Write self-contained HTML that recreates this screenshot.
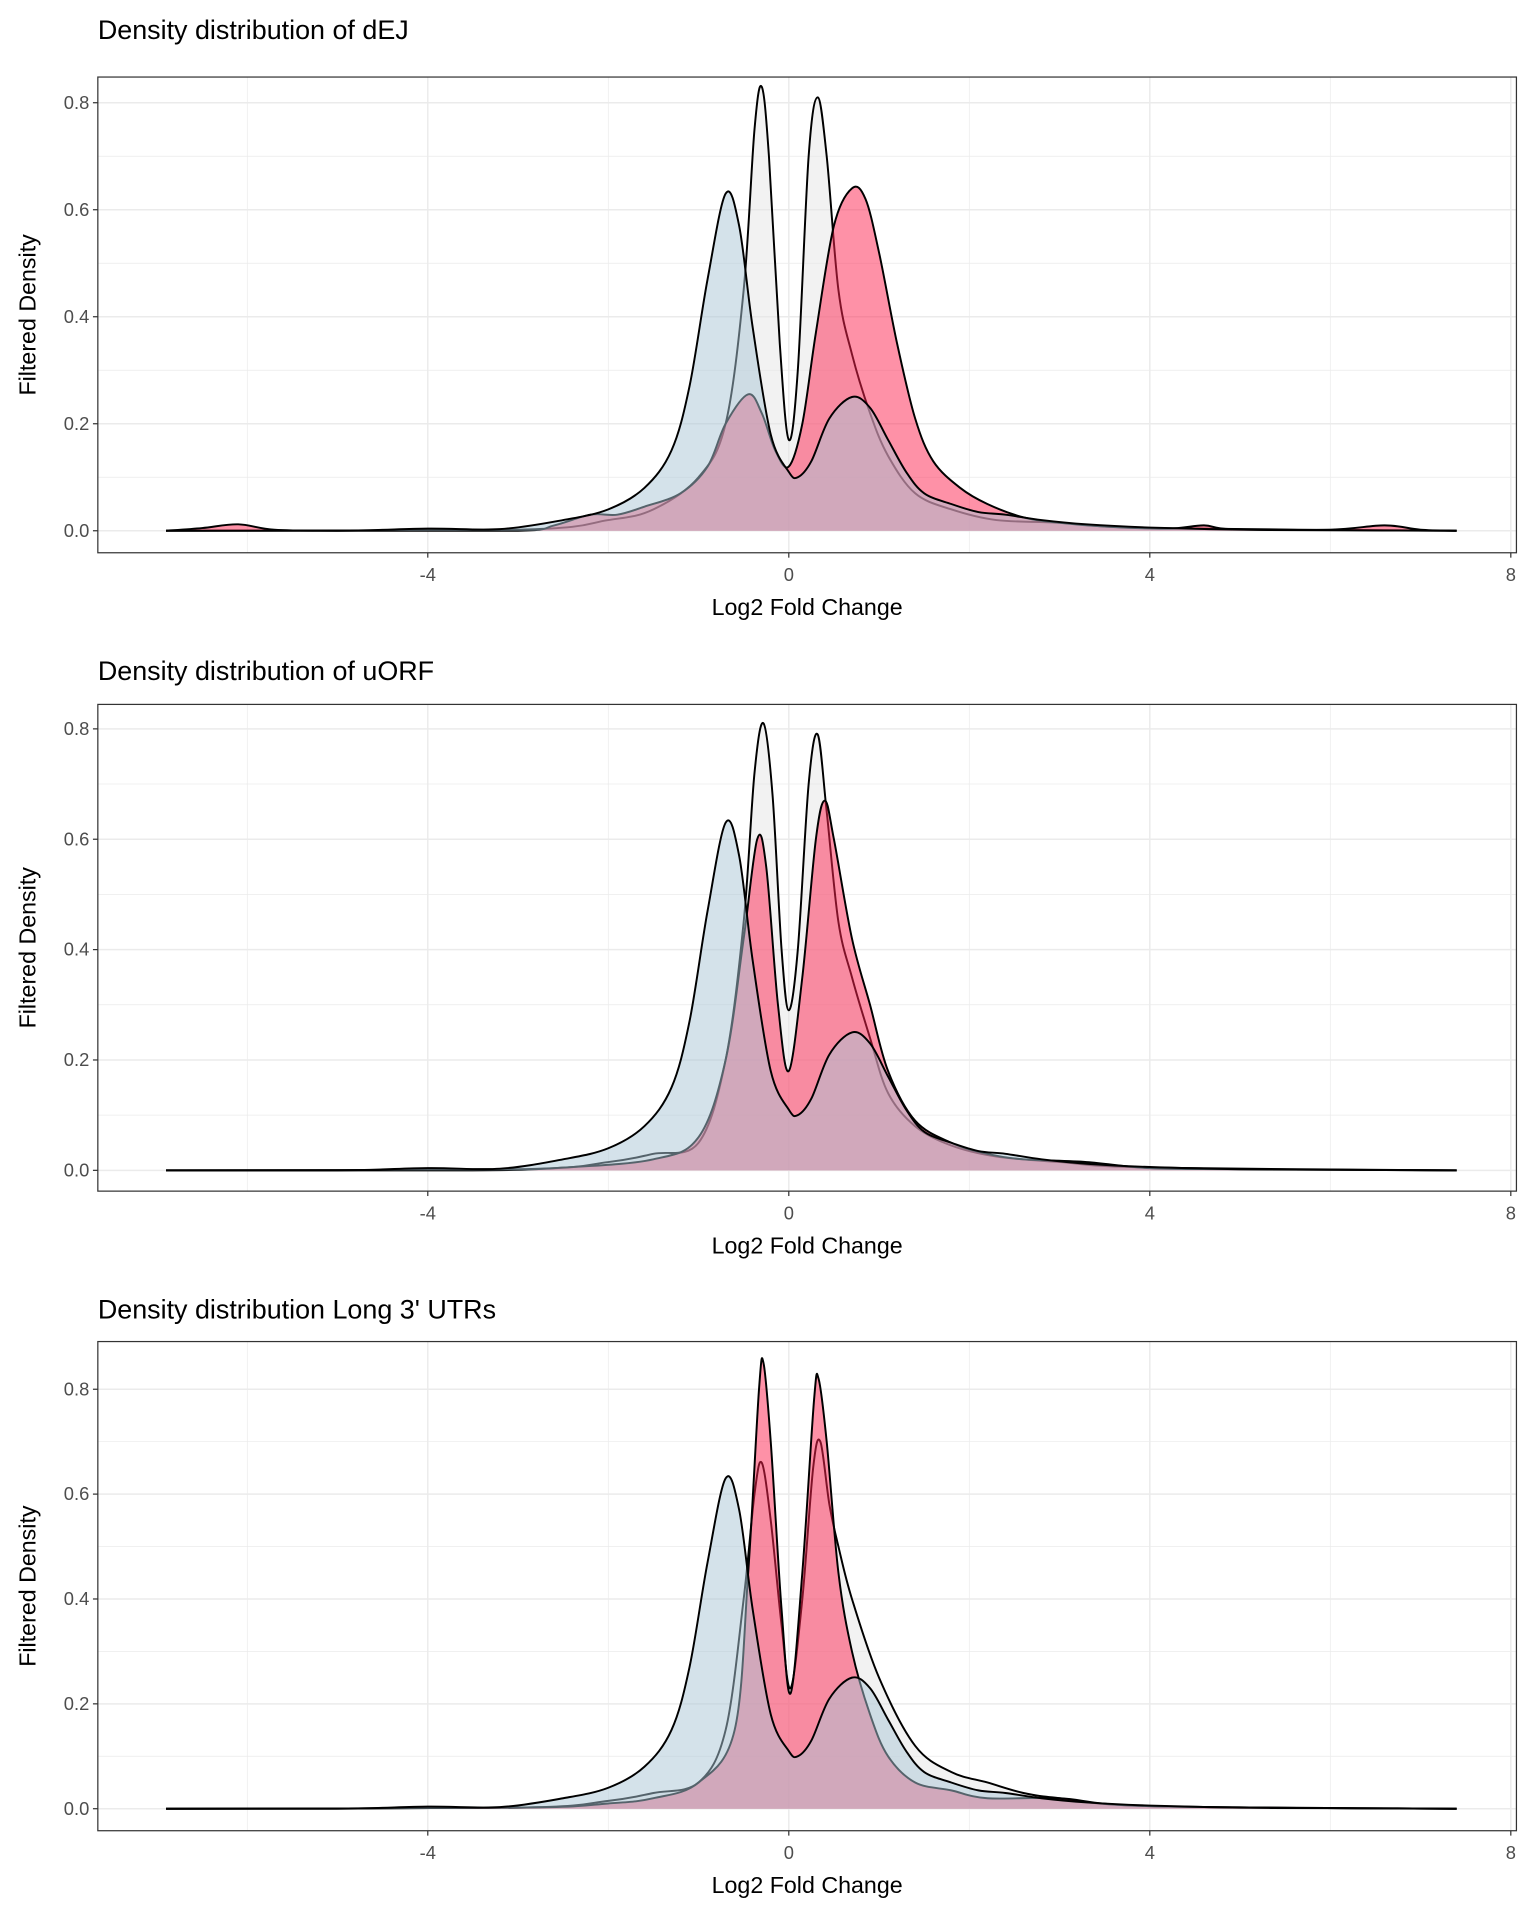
<!DOCTYPE html>
<html><head><meta charset="utf-8"><style>
html,body{margin:0;padding:0;background:#fff}
svg{display:block}
text{font-family:"Liberation Sans",Arial,sans-serif}
</style></head><body>
<svg id="chart" xmlns="http://www.w3.org/2000/svg" width="1536" height="1920" viewBox="0 0 1256 1570"></svg>
<script>
// Shared data
const xTicks = [-4, 0, 4, 8];
const xMinor = [-6, -2, 2, 6];
const yTicks = [0.0, 0.2, 0.4, 0.6, 0.8];
const yTickLabels = ["0.0", "0.2", "0.4", "0.6", "0.8"];
const yMinor = [0.1, 0.3, 0.5, 0.7];
const panelTitles = ["Density distribution of dEJ", "Density distribution of uORF", "Density distribution Long 3' UTRs"];

// blue series (same in every panel)
const blueX = [-6.9,-5,-4,-3.2,-2.5,-2.0,-1.6,-1.3,-1.1,-0.9,-0.7,-0.55,-0.4,-0.2,0,0.1,0.25,0.45,0.7,0.9,1.1,1.3,1.5,1.8,2.1,2.4,2.8,3.3,4,5,6,7.4];
const blueY = [0,0,0.004,0.003,0.02,0.04,0.08,0.15,0.27,0.47,0.63,0.57,0.38,0.18,0.11,0.10,0.13,0.21,0.25,0.23,0.17,0.11,0.07,0.05,0.035,0.03,0.02,0.012,0.006,0.002,0.001,0];

// panel 1 (dEJ)
const grey1X = [-6.9,-3,-2,-1.5,-1.0,-0.7,-0.5,-0.38,-0.3,-0.22,-0.1,0,0.1,0.22,0.32,0.42,0.55,0.7,0.9,1.1,1.4,1.8,2.3,3,4,7.4];
const grey1Y = [0,0.002,0.02,0.04,0.1,0.2,0.45,0.75,0.83,0.7,0.35,0.17,0.3,0.7,0.81,0.7,0.45,0.33,0.22,0.14,0.07,0.04,0.02,0.015,0.005,0];
const pink1X = [-6.9,-6.5,-6.1,-5.7,-5,-3,-2.6,-2.2,-1.9,-1.6,-1.2,-0.9,-0.7,-0.45,-0.3,-0.15,0,0.15,0.3,0.5,0.7,0.85,1.0,1.2,1.4,1.6,1.9,2.2,2.6,3,3.5,4.2,4.6,4.9,6,6.6,7,7.4];
const pink1Y = [0,0.005,0.012,0.002,0,0,0.01,0.03,0.03,0.045,0.07,0.12,0.2,0.255,0.22,0.15,0.12,0.2,0.37,0.57,0.64,0.62,0.52,0.35,0.21,0.13,0.08,0.05,0.025,0.015,0.008,0.004,0.01,0.003,0.002,0.01,0.002,0];

// panel 2 (uORF)
const grey2X = [-6.9,-3,-2,-1.5,-1.0,-0.7,-0.5,-0.38,-0.28,-0.18,-0.08,0,0.1,0.22,0.32,0.42,0.55,0.7,0.9,1.1,1.4,1.8,2.3,3,4,7.4];
const grey2Y = [0,0.002,0.015,0.03,0.05,0.2,0.45,0.72,0.81,0.68,0.4,0.29,0.4,0.7,0.79,0.65,0.45,0.35,0.24,0.14,0.08,0.045,0.025,0.015,0.005,0];
const pink2X = [-6.9,-3.5,-2.5,-1.5,-1.0,-0.7,-0.5,-0.35,-0.25,-0.12,0,0.15,0.3,0.4,0.5,0.7,0.9,1.1,1.4,1.8,2.2,2.6,3.3,4,5,7.4];
const pink2Y = [0,0,0.005,0.02,0.06,0.2,0.42,0.6,0.55,0.3,0.18,0.35,0.6,0.67,0.6,0.42,0.3,0.18,0.09,0.05,0.03,0.02,0.015,0.004,0.002,0];

// panel 3 (Long 3' UTRs)
const grey3X = [-6.9,-3,-2,-1.5,-1.0,-0.7,-0.5,-0.38,-0.3,-0.2,-0.08,0.02,0.15,0.27,0.35,0.45,0.55,0.7,1.0,1.4,1.8,2.2,2.6,3,4,7.4];
const grey3Y = [0,0.002,0.015,0.03,0.05,0.15,0.4,0.6,0.66,0.55,0.35,0.23,0.4,0.65,0.7,0.58,0.5,0.4,0.25,0.12,0.07,0.05,0.03,0.02,0.005,0];
const pink3X = [-6.9,-3,-2,-1.5,-1.0,-0.6,-0.45,-0.33,-0.28,-0.2,-0.08,0.02,0.15,0.28,0.33,0.42,0.55,0.7,0.9,1.1,1.4,1.8,2.2,3,4,7.4];
const pink3Y = [0,0.002,0.01,0.02,0.05,0.15,0.45,0.8,0.85,0.7,0.38,0.22,0.45,0.78,0.82,0.7,0.45,0.3,0.18,0.1,0.05,0.035,0.02,0.02,0.005,0];

const panels = [
  {top:63, bottom:452, y0:434, y08:84, titleY:32, greyX:grey1X, greyY:grey1Y, pinkX:pink1X, pinkY:pink1Y},
  {top:576, bottom:974, y0:957, y08:596, titleY:556, greyX:grey2X, greyY:grey2Y, pinkX:pink2X, pinkY:pink2Y},
  {top:1097, bottom:1497, y0:1479, y08:1136, titleY:1078, greyX:grey3X, greyY:grey3Y, pinkX:pink3X, pinkY:pink3Y}
];
const NS = "http://www.w3.org/2000/svg";
const svg = document.getElementById('chart');
const L = 80, R = 1240;
const xs = v => 645 + v * 73.8;

function mk(tag, attrs, parent){
  const e = document.createElementNS(NS, tag);
  for (const k in attrs) e.setAttribute(k, attrs[k]);
  parent.appendChild(e);
  return e;
}
function curvePath(X, Y, ys){
  const P = X.map((x,i)=>[xs(x), ys(Y[i])]);
  let d = `M${P[0][0]},${P[0][1]}`;
  for (let i=0;i<P.length-1;i++){
    const p0=P[Math.max(0,i-1)], p1=P[i], p2=P[i+1], p3=P[Math.min(P.length-1,i+2)];
    const t=0.5/3;
    const c1=[p1[0]+(p2[0]-p0[0])*t, Math.min(ys(0), p1[1]+(p2[1]-p0[1])*t)];
    const c2=[p2[0]-(p3[0]-p1[0])*t, Math.min(ys(0), p2[1]-(p3[1]-p1[1])*t)];
    d += ` C${c1[0]},${c1[1]} ${c2[0]},${c2[1]} ${p2[0]},${p2[1]}`;
  }
  return d;
}

panels.forEach((p, pi) => {
  const g = mk('g', {}, svg);
  
  
  const ys = v => p.y0 - v * (p.y0 - p.y08) / 0.8;
  const t = mk('text', {x:80, y:p.titleY, 'font-size':22, fill:'#000'}, g);
  t.textContent = panelTitles[pi];
  
  
  yMinor.forEach(v => mk('line', {x1:L, x2:R, y1:ys(v), y2:ys(v), stroke:'#ebebeb', 'stroke-width':0.6}, g));
  xMinor.forEach(v => mk('line', {x1:xs(v), x2:xs(v), y1:p.top, y2:p.bottom, stroke:'#ebebeb', 'stroke-width':0.6}, g));
  yTicks.forEach(v => mk('line', {x1:L, x2:R, y1:ys(v), y2:ys(v), stroke:'#ebebeb', 'stroke-width':1.2}, g));
  xTicks.forEach(v => { if (xs(v) < R) mk('line', {x1:xs(v), x2:xs(v), y1:p.top, y2:p.bottom, stroke:'#ebebeb', 'stroke-width':1.2}, g); });
  const series = [
    {X:p.greyX, Y:p.greyY, fill:'#e6e6e6', op:0.5, name:'grey-density'},
    {X:p.pinkX, Y:p.pinkY, fill:'#fd234f', op:0.5, name:'pink-density'},
    {X:blueX, Y:blueY, fill:'#a9c6d5', op:0.5, name:'blue-density'}
  ];
  series.forEach(s => {
    const d = curvePath(s.X, s.Y, ys);
    const area = mk('path', {d: d + ` L${xs(s.X[s.X.length-1])},${ys(0)} L${xs(s.X[0])},${ys(0)} Z`, fill:s.fill, 'fill-opacity':s.op, stroke:'none'}, g);
    
    
    const line = mk('path', {d:d, fill:'none', stroke:'#000', 'stroke-width':1.6}, g);
    
    
  });
  const b = mk('rect', {x:L, y:p.top, width:R-L, height:p.bottom-p.top, fill:'none', stroke:'#333', 'stroke-width':1}, g);
  
  
  yTicks.forEach((v, i) => {
    mk('line', {x1:L-4, x2:L, y1:ys(v), y2:ys(v), stroke:'#333', 'stroke-width':1}, g);
    const tl = mk('text', {x:L-7, y:ys(v)+5, 'font-size':15, fill:'#4d4d4d', 'text-anchor':'end'}, g);
    tl.textContent = yTickLabels[i];
    
    
  });
  xTicks.forEach(v => {
    mk('line', {x1:xs(v), x2:xs(v), y1:p.bottom, y2:p.bottom+4, stroke:'#333', 'stroke-width':1}, g);
    const tl = mk('text', {x:xs(v), y:p.bottom+23, 'font-size':15, fill:'#4d4d4d', 'text-anchor':'middle'}, g);
    tl.textContent = String(v);
    
    
  });
  const xt = mk('text', {x:(L+R)/2, y:p.bottom+51, 'font-size':19, fill:'#000', 'text-anchor':'middle'}, g);
  xt.textContent = 'Log2 Fold Change';
  
  
  const cy = (p.top+p.bottom)/2;
  const yt = mk('text', {x:0, y:0, 'font-size':19, fill:'#000', 'text-anchor':'middle', transform:`translate(29,${cy}) rotate(-90)`}, g);
  yt.textContent = 'Filtered Density';
  
  
});
</script>
</body></html>
